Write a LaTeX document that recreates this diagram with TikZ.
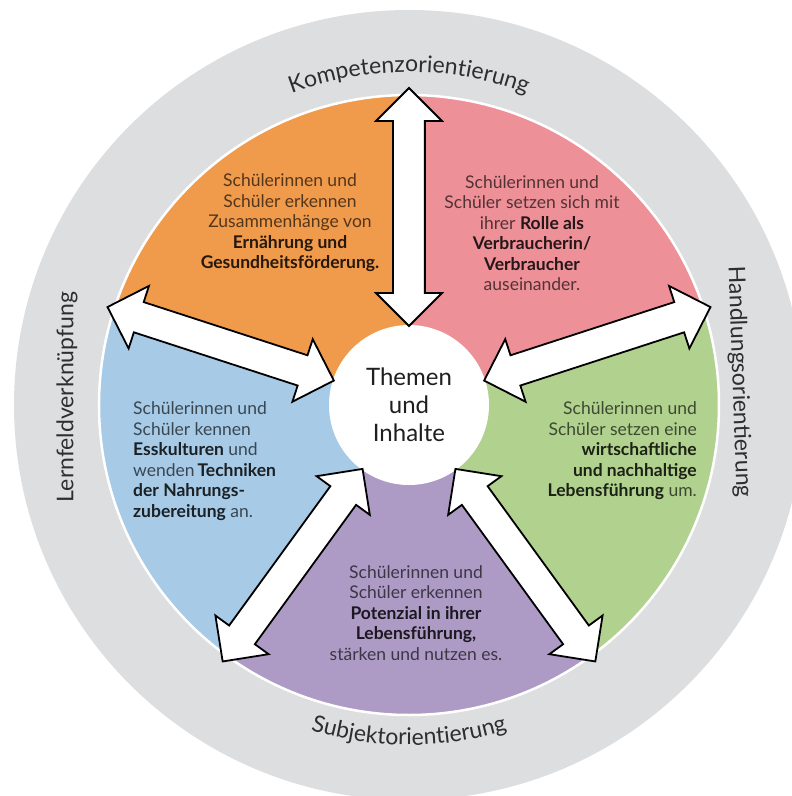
\documentclass[tikz,border=0pt]{standalone}
\usepackage{fontspec}
\setmainfont{Lato}
\usetikzlibrary{shapes.arrows,decorations.text}

\definecolor{ringgrey}{HTML}{DDDEE0}
\definecolor{orangeseg}{HTML}{F09A4C}
\definecolor{pinkseg}{HTML}{EE9098}
\definecolor{greenseg}{HTML}{B1D18E}
\definecolor{blueseg}{HTML}{A7CAE6}
\definecolor{purpleseg}{HTML}{AD9BC6}
\definecolor{ringtext}{HTML}{2E2E2E}

\newcommand\ringfont{\fontsize{23}{27}\selectfont}
\newcommand\boldpart[1]{\textbf{\color{.!45!black}#1}}

\tikzset{
  blockarrow/.style={double arrow, draw=black, fill=white, line width=1.8pt,
    double arrow tip angle=90, double arrow head extend=17pt,
    minimum height=238pt, inner xsep=0pt, inner ysep=15pt},
  segtext/.style={font=\fontsize{17.5}{20.5}\selectfont, inner sep=0pt},
  ringlabel/.style={font=\ringfont, text=ringtext, inner sep=0pt},
}

\begin{document}
\begin{tikzpicture}[x=1pt,y=1pt]
  \useasboundingbox (-409,-391) rectangle (383,405);
  \fill[ringgrey] (0,0) circle (395);
  \foreach \a/\c in {18/pinkseg, 90/orangeseg, 162/blueseg, 234/purpleseg, 306/greenseg}
    \fill[\c] (0,0) -- (\a:310) arc (\a:\a+72:310) -- cycle;
  \draw[white, line width=2.5pt] (0,0) circle (310);

  \node[circle, fill=white, minimum size=160pt, inner sep=0pt, align=center,
    font=\fontsize{24}{28}\selectfont, text=black!88] (themen) at (0,0) {Themen\\und\\Inhalte};

  \foreach \a [count=\i] in {90,162,234,306,18}
    \node[blockarrow, rotate=\a] (arrow\i) at (\a:198) {};

  \node[segtext, align=center, text=orangeseg!35!black] (ernaehrung) at (-119,182)
    {Schülerinnen und\\Schüler erkennen\\Zusammenhänge von\\\boldpart{Ernährung und}\\\boldpart{Gesundheitsförderung.}};
  \node[segtext, align=center, text=pinkseg!35!black] (rolle) at (123,172)
    {Schülerinnen und\\Schüler setzen sich mit\\ihrer \boldpart{Rolle als}\\\boldpart{Verbraucherin/}\\\boldpart{Verbraucher}\\auseinander.};
  \node[segtext, align=left, anchor=west, text=blueseg!35!black] (esskultur) at (-276,-56)
    {Schülerinnen und\\Schüler kennen\\\boldpart{Esskulturen} und\\wenden\,\boldpart{Techniken}\\\boldpart{der Nahrungs-}\\\boldpart{zubereitung} an.};
  \node[segtext, align=right, anchor=east, text=greenseg!35!black] (lebensfuehrung) at (288,-46)
    {Schülerinnen und\\Schüler setzen eine\\\boldpart{wirtschaftliche}\\\boldpart{und nachhaltige}\\\boldpart{Lebensführung} um.};
  \node[segtext, align=center, text=purpleseg!35!black] (potenzial) at (7,-208)
    {Schülerinnen und\\Schüler erkennen\\\boldpart{Potenzial in ihrer}\\\boldpart{Lebensführung,}\\stärken und nutzen es.};

  \path[decorate, decoration={text along path, text align=center, text color=ringtext,
    text={|\ringfont|Kompetenzorientierung}}] (125:333) arc (125:55:333);
  \path[decorate, decoration={text along path, text align=center, text color=ringtext,
    text={|\ringfont|Subjektorientierung}}] (235:340) arc (235:305:340);
  \node[ringlabel, rotate=90] (lernfeld) at (-342,8) {Lernfeldverknüpfung};
  \node[ringlabel, rotate=-88] (handlung) at (330,23) {Handlungsorientierung};
\end{tikzpicture}
\end{document}
